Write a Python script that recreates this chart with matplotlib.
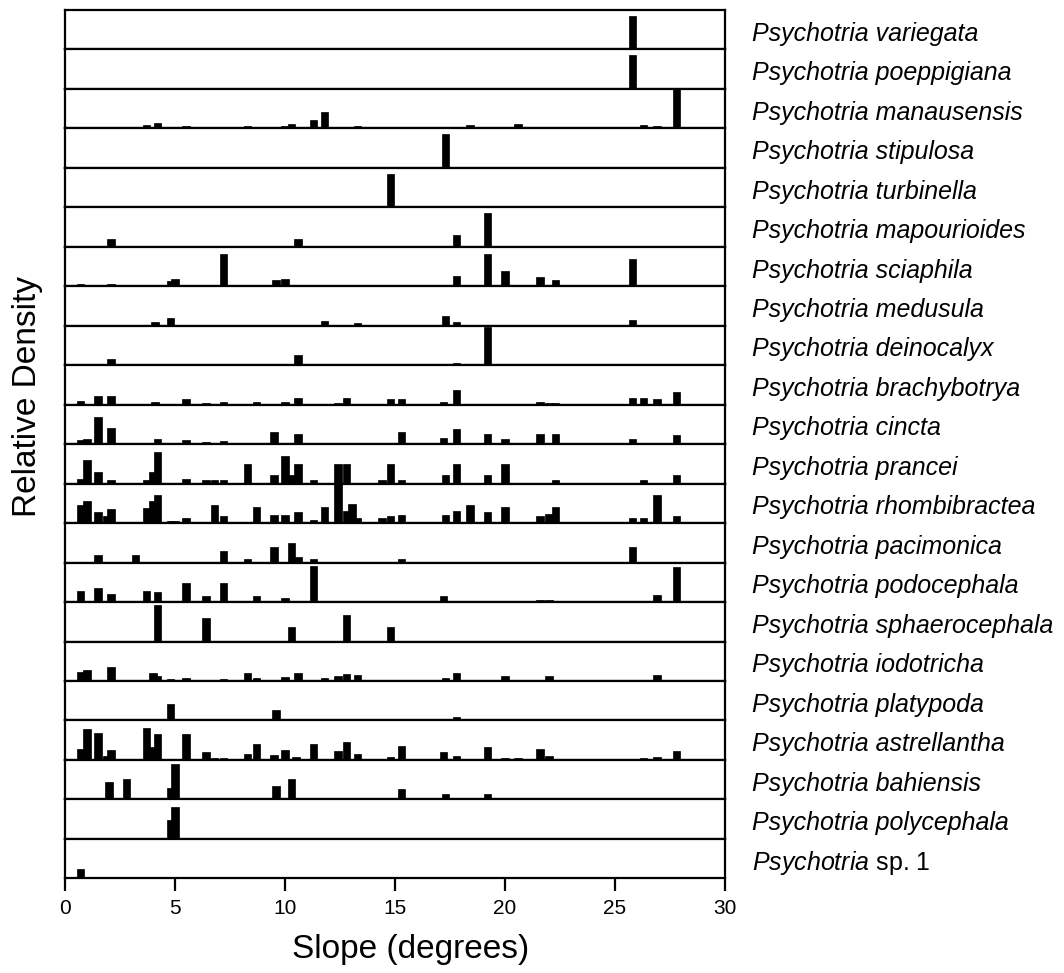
import matplotlib
matplotlib.use("Agg")
import matplotlib.pyplot as plt

plt.rcParams['font.family'] = ['Liberation Sans', 'DejaVu Sans']
plt.rcParams['mathtext.fontset'] = 'custom'
plt.rcParams['mathtext.rm'] = 'Liberation Sans'
plt.rcParams['mathtext.it'] = 'Liberation Sans:italic'

# species, top to bottom
species = ['Psychotria variegata', 'Psychotria poeppigiana', 'Psychotria manausensis',
           'Psychotria stipulosa', 'Psychotria turbinella', 'Psychotria mapourioides',
           'Psychotria sciaphila', 'Psychotria medusula', 'Psychotria deinocalyx',
           'Psychotria brachybotrya', 'Psychotria cincta', 'Psychotria prancei',
           'Psychotria rhombibractea', 'Psychotria pacimonica', 'Psychotria podocephala',
           'Psychotria sphaerocephala', 'Psychotria iodotricha', 'Psychotria platypoda',
           'Psychotria astrellantha', 'Psychotria bahiensis', 'Psychotria polycephala',
           'Psychotria sp. 1']

# slope values (degrees) and relative density for each species
variegata_x = [25.8]
variegata_h = [0.86]
poeppigiana_x = [25.8]
poeppigiana_h = [0.85]
manausensis_x = [3.7, 4.2, 4.8, 5.5, 8.3, 10.0, 10.3, 11.3, 11.8, 12.4, 12.8, 13.3, 14.3, 14.8,
                 15.3, 17.3, 18.4, 20.6, 26.3, 26.9, 27.8]
manausensis_h = [0.08, 0.13, 0.02, 0.05, 0.05, 0.06, 0.1, 0.21, 0.41, 0.04, 0.04, 0.05, 0.02, 0.02,
                 0.02, 0.02, 0.08, 0.12, 0.08, 0.06, 1.0]
stipulosa_x = [17.3]
stipulosa_h = [0.85]
turbinella_x = [14.8]
turbinella_h = [0.85]
mapourioides_x = [2.1, 10.6, 17.8, 19.2]
mapourioides_h = [0.21, 0.21, 0.3, 0.85]
sciaphila_x = [0.7, 1.5, 2.1, 4.8, 5.0, 7.2, 8.7, 9.6, 10.0, 10.6, 11.3, 17.8, 19.2, 20.0, 21.6,
               22.3, 25.8]
sciaphila_h = [0.07, 0.02, 0.05, 0.14, 0.19, 0.83, 0.02, 0.15, 0.19, 0.04, 0.03, 0.25, 0.83, 0.38,
               0.24, 0.17, 0.68]
medusula_x = [2.1, 4.1, 4.8, 11.8, 13.3, 14.8, 17.3, 17.8, 25.8]
medusula_h = [0.02, 0.1, 0.19, 0.12, 0.06, 0.03, 0.25, 0.085, 0.14]
deinocalyx_x = [0.7, 2.1, 4.8, 10.6, 15.3, 17.8, 19.2, 21.6]
deinocalyx_h = [0.02, 0.17, 0.02, 0.27, 0.04, 0.05, 0.97, 0.03]
brachybotrya_x = [0.7, 1.5, 2.1, 4.1, 4.8, 5.5, 6.4, 7.2, 8.7, 9.6, 10.0, 10.6, 12.4, 12.8, 13.3,
                  14.8, 15.3, 17.2, 17.8, 18.4, 19.2, 20.0, 21.6, 22.0, 22.3, 25.8, 26.3, 26.9, 27.8]
brachybotrya_h = [0.1, 0.21, 0.21, 0.08, 0.03, 0.15, 0.04, 0.07, 0.06, 0.03, 0.08, 0.17, 0.05, 0.17,
                  0.02, 0.15, 0.15, 0.07, 0.38, 0.02, 0.03, 0.02, 0.06, 0.04, 0.04, 0.17, 0.17, 0.15,
                  0.31]
cincta_x = [0.7, 1.0, 1.5, 2.1, 4.2, 4.8, 5.5, 6.4, 7.2, 8.7, 9.5, 10.6, 11.3, 12.4, 14.3, 15.3,
            17.2, 17.8, 19.2, 20.0, 21.6, 22.3, 25.8, 27.8]
cincta_h = [0.1, 0.13, 0.68, 0.42, 0.12, 0.02, 0.1, 0.06, 0.085, 0.02, 0.3, 0.25, 0.02, 0.01, 0.02,
            0.3, 0.15, 0.39, 0.25, 0.14, 0.25, 0.25, 0.14, 0.24]
prancei_x = [0.7, 1.0, 1.5, 2.1, 3.7, 4.0, 4.2, 5.5, 6.4, 6.8, 7.2, 8.3, 9.5, 10.0, 10.3, 10.6,
             11.3, 12.4, 12.8, 14.4, 14.8, 15.3, 17.3, 17.8, 19.2, 20.0, 22.3, 26.3, 27.8]
prancei_h = [0.11, 0.61, 0.3, 0.1, 0.1, 0.3, 0.8, 0.11, 0.1, 0.1, 0.1, 0.51, 0.21, 0.69, 0.21, 0.51,
             0.1, 0.51, 0.51, 0.1, 0.51, 0.1, 0.21, 0.51, 0.21, 0.51, 0.1, 0.1, 0.21]
rhombibractea_x = [0.7, 1.0, 1.5, 1.9, 2.1, 3.7, 4.0, 4.2, 4.8, 5.0, 5.5, 6.8, 7.2, 8.7, 9.5, 10.0,
                   10.6, 11.3, 11.8, 12.4, 12.8, 13.05, 13.3, 14.4, 14.8, 15.3, 17.3, 17.8, 18.4,
                   19.2, 20.0, 21.6, 22.0, 22.3, 25.8, 26.3, 26.9, 27.8]
rhombibractea_h = [0.46, 0.57, 0.28, 0.17, 0.35, 0.38, 0.57, 0.72, 0.06, 0.05, 0.14, 0.45, 0.17, 0.4,
                   0.2, 0.2, 0.28, 0.08, 0.4, 1.0, 0.31, 0.48, 0.14, 0.14, 0.18, 0.21, 0.21, 0.31,
                   0.45, 0.28, 0.4, 0.18, 0.24, 0.4, 0.14, 0.14, 0.72, 0.18]
pacimonica_x = [0.7, 1.5, 3.2, 7.2, 8.3, 9.5, 10.3, 10.6, 11.3, 15.3, 25.8]
pacimonica_h = [0.02, 0.2, 0.2, 0.3, 0.1, 0.4, 0.5, 0.15, 0.1, 0.1, 0.4]
podocephala_x = [0.7, 1.5, 2.1, 3.7, 4.2, 5.5, 6.4, 7.2, 8.7, 10.0, 11.3, 11.8, 12.8, 17.2, 17.8,
                 21.6, 22.0, 25.8, 26.3, 26.9, 27.8]
podocephala_h = [0.28, 0.36, 0.2, 0.28, 0.26, 0.49, 0.15, 0.49, 0.15, 0.1, 0.91, 0.03, 0.02, 0.15,
                 0.03, 0.04, 0.05, 0.01, 0.01, 0.18, 0.89]
sphaerocephala_x = [4.2, 6.4, 10.3, 12.8, 14.8]
sphaerocephala_h = [0.93, 0.59, 0.36, 0.68, 0.36]
iodotricha_x = [0.7, 1.0, 1.5, 2.1, 4.0, 4.2, 4.8, 5.5, 7.2, 8.3, 8.7, 9.5, 10.0, 10.6, 11.8, 12.4,
                12.8, 13.3, 14.8, 15.3, 17.3, 17.8, 20.0, 20.6, 22.0, 25.8, 26.3, 26.9]
iodotricha_h = [0.23, 0.29, 0.02, 0.36, 0.2, 0.12, 0.06, 0.08, 0.06, 0.19, 0.08, 0.03, 0.1, 0.19,
                0.08, 0.12, 0.17, 0.14, 0.02, 0.02, 0.08, 0.19, 0.12, 0.03, 0.12, 0.03, 0.03, 0.16]
platypoda_x = [4.8, 9.6, 17.8]
platypoda_h = [0.41, 0.27, 0.08]
astrellantha_x = [0.7, 1.0, 1.5, 1.9, 2.1, 3.7, 4.0, 4.2, 4.8, 5.5, 6.4, 6.8, 7.2, 8.3, 8.7, 9.5,
                  10.0, 10.5, 11.3, 12.4, 12.8, 13.3, 14.4, 14.8, 15.3, 17.2, 17.8, 19.2, 20.0,
                  20.6, 21.6, 22.0, 22.3, 25.8, 26.3, 26.9, 27.8]
astrellantha_h = [0.28, 0.78, 0.68, 0.1, 0.25, 0.82, 0.34, 0.66, 0.03, 0.66, 0.19, 0.04, 0.04, 0.15,
                  0.4, 0.13, 0.25, 0.08, 0.41, 0.22, 0.46, 0.14, 0.03, 0.08, 0.36, 0.21, 0.11, 0.32,
                  0.04, 0.04, 0.27, 0.1, 0.03, 0.02, 0.04, 0.08, 0.22]
bahiensis_x = [2.0, 2.8, 3.2, 4.8, 5.0, 9.6, 10.3, 10.6, 15.3, 17.3, 19.2]
bahiensis_h = [0.44, 0.51, 0.02, 0.3, 0.9, 0.34, 0.52, 0.04, 0.27, 0.13, 0.13]
polycephala_x = [3.2, 4.8, 5.0]
polycephala_h = [0.02, 0.47, 0.8]
sp1_x = [0.7, 25.8]
sp1_h = [0.23, 0.02]

xs = [variegata_x, poeppigiana_x, manausensis_x, stipulosa_x, turbinella_x, mapourioides_x,
      sciaphila_x, medusula_x, deinocalyx_x, brachybotrya_x, cincta_x, prancei_x,
      rhombibractea_x, pacimonica_x, podocephala_x, sphaerocephala_x, iodotricha_x,
      platypoda_x, astrellantha_x, bahiensis_x, polycephala_x, sp1_x]
hs = [variegata_h, poeppigiana_h, manausensis_h, stipulosa_h, turbinella_h, mapourioides_h,
      sciaphila_h, medusula_h, deinocalyx_h, brachybotrya_h, cincta_h, prancei_h,
      rhombibractea_h, pacimonica_h, podocephala_h, sphaerocephala_h, iodotricha_h,
      platypoda_h, astrellantha_h, bahiensis_h, polycephala_h, sp1_h]

fig, axes = plt.subplots(len(species), 1, figsize=(10.64, 9.73), dpi=100, sharex=True)
fig.subplots_adjust(left=0.0611, right=0.6814, top=0.9897, bottom=0.0973, hspace=0)

for ax, name, x, h in zip(axes, species, xs, hs):
    ax.bar(x, h, width=0.34, color='black', edgecolor='black', linewidth=0.5)
    ax.set_xlim(0, 30)
    ax.set_ylim(0, 1)
    ax.set_yticks([])
    for s in ax.spines.values():
        s.set_linewidth(1.6)
    ax.tick_params(axis='x', bottom=False, labelbottom=False)
    if name.endswith('sp. 1'):
        label = r'$\it{Psychotria}$ sp. 1'
        ax.text(1.041, 0.4, label, transform=ax.transAxes, fontsize=18, va='center')
    else:
        ax.text(1.041, 0.4, name, transform=ax.transAxes, fontsize=18, va='center',
                style='italic')

axes[-1].set_xticks([0, 5, 10, 15, 20, 25, 30])
axes[-1].tick_params(axis='x', bottom=True, labelbottom=True, direction='out', length=9,
                     width=1.6, labelsize=15, pad=6)

fig.text(0.386, 0.008, 'Slope (degrees)', ha='center', va='bottom', fontsize=24)
fig.text(0.026, 0.592, 'Relative Density', ha='center', va='center', rotation=90, fontsize=24)

fig.savefig('out.png', dpi=100)
